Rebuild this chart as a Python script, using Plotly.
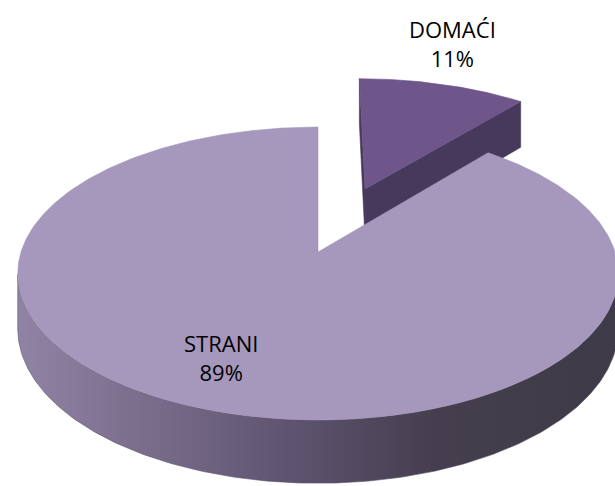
import numpy as np
import plotly.graph_objects as go

# ---- data ----
labels = ["DOMAĆI", "STRANI"]
values = [11, 89]
explode = [0.5, 0.0]

# ---- styles ----
top_colors = ["#6F568A", "#A698BC"]
side_colors = ["#47395B", "#5A5068"]
side_gradient = [[0.0, "#9183A4"], [0.45, "#5E5470"], [0.7, "#443E4E"], [1.0, "#3F3A47"]]

# ---- 3D projection (perspective view of a tilted disc) ----
W, Hpx = 615, 486
CX, CY = 318.0, 252.0      # projected centre of the disc
A, B = 297.0, 143.3        # horizontal / depth radii
K = 0.1468                 # perspective strength
DEPTH = 54.0               # thickness of the disc


def proj(u, v, h):
    d = 1.0 + K * v
    return CX + A * u / d, CY - B * v / d + DEPTH * h / d


def pts(us, vs, h):
    xs, ys = proj(np.asarray(us), np.asarray(vs), h)
    return list(xs), list(ys)


fig = go.Figure()
total = float(sum(values))
cum = np.concatenate([[0.0], np.cumsum(values)]) / total * 2 * np.pi
cam = np.array([0.0, -1.0 / K])

slices = []
for i, lab in enumerate(labels):
    s, e = cum[i], cum[i + 1]
    m = 0.5 * (s + e)
    ox, oy = explode[i] * np.sin(m), explode[i] * np.cos(m)
    slices.append((i, s, e, ox, oy))


def poly(xs, ys, color, gradient=None):
    kw = dict(x=xs + [xs[0]], y=ys + [ys[0]], mode="lines", fill="toself",
              line=dict(width=0.6, color=color), hoverinfo="skip", showlegend=False)
    if gradient is not None:
        kw["fillgradient"] = dict(type="horizontal", colorscale=gradient)
    else:
        kw["fillcolor"] = color
    fig.add_trace(go.Scatter(**kw))


# draw the exploded (farther) slice first
order = sorted(slices, key=lambda t: -t[4])
for (i, s, e, ox, oy) in order:
    # radial faces
    for ang, sign in ((s, -1), (e, 1)):
        n = np.array([sign * np.cos(ang), -sign * np.sin(ang)])
        p = np.array([ox, oy])
        if np.dot(n, cam - p) > 1e-3:
            eu, ev = ox + np.sin(ang), oy + np.cos(ang)
            x1, y1 = pts([ox, eu], [oy, ev], 0)
            x2, y2 = pts([eu, ox], [ev, oy], 1)
            poly(x1 + x2, y1 + y2, side_colors[i])
    # outer curved side (visible part)
    phi = np.linspace(s, e, 400)
    nu, nv = np.sin(phi), np.cos(phi)
    vis = (nu * (cam[0] - ox - nu) + nv * (cam[1] - oy - nv)) > 0
    if vis.any():
        ph = phi[vis]
        us, vs = ox + np.sin(ph), oy + np.cos(ph)
        x1, y1 = pts(us, vs, 0)
        x2, y2 = pts(us[::-1], vs[::-1], 1)
        poly(x1 + x2, y1 + y2, side_colors[i], gradient=side_gradient)
    # top face
    phi = np.linspace(s, e, 400)
    us = np.concatenate([[ox], ox + np.sin(phi)])
    vs = np.concatenate([[oy], oy + np.cos(phi)])
    xt, yt = pts(us, vs, 0)
    poly(xt, yt, top_colors[i])

# labels
label_pos = {"DOMAĆI": (452.5, 43.5), "STRANI": (220.5, 357)}
font = dict(family="Open Sans", size=22, color="#000000")
for i, lab in enumerate(labels):
    pct = round(values[i] / total * 100)
    x, y = label_pos[lab]
    fig.add_annotation(x=x, y=y, text=f"{lab}<br>{pct}%", showarrow=False, font=font,
                       xanchor="center", yanchor="middle")

fig.update_layout(
    width=W, height=Hpx, margin=dict(l=0, r=0, t=0, b=0),
    paper_bgcolor="white", plot_bgcolor="white",
    xaxis=dict(range=[0, W], visible=False, fixedrange=True),
    yaxis=dict(range=[Hpx, 0], visible=False, fixedrange=True),
)
fig.write_html("out.html", config={"displayModeBar": False},
               post_script="document.body.style.margin='0';document.body.style.overflow='hidden';")
